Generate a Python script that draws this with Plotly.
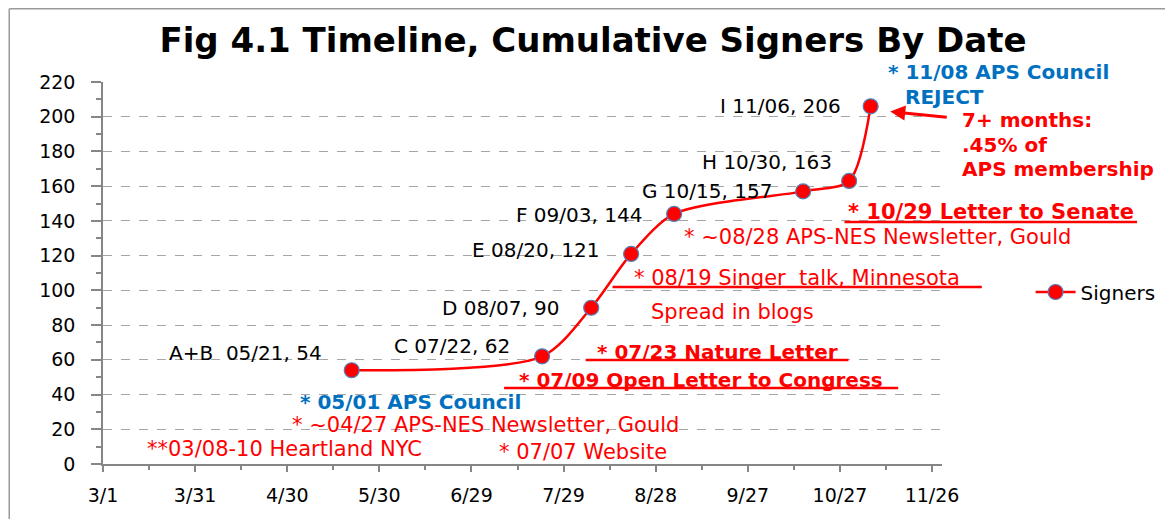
import plotly.graph_objects as go
import datetime as dt

# ---- data ----
point_labels = ["A+B ", "C", "D", "E", "F", "G", "H", "I"]
dates = ["2009-05-21", "2009-07-22", "2009-08-07", "2009-08-20",
         "2009-09-03", "2009-10-15", "2009-10-30", "2009-11-06"]
signers = [54, 62, 90, 121, 144, 157, 163, 206]

tick_dates = ["2009-03-01", "2009-03-31", "2009-04-30", "2009-05-30", "2009-06-29",
              "2009-07-29", "2009-08-28", "2009-09-27", "2009-10-27", "2009-11-26"]
tick_text = ["3/1", "3/31", "4/30", "5/30", "6/29", "7/29", "8/28", "9/27", "10/27", "11/26"]
minor_dates = ["2009-03-16", "2009-04-15", "2009-05-15", "2009-06-14", "2009-07-14",
               "2009-08-13", "2009-09-12", "2009-10-12", "2009-11-11"]

# ---- layout geometry (page pixels; page body has an 8px margin) ----
OFF = 8
W, H = 1165, 511
L, R, T, B = 103, 946, 82, 464   # plot area edges on the page


def px(x):
    return (x - L) / (R - L)


def py(y):
    return (B - y) / (B - T)


RED = "#ff0000"
BLUE = "#0070c0"
FONT = "DejaVu Sans"

fig = go.Figure()
fig.add_trace(go.Scatter(
    x=dates, y=signers, mode="lines+markers", name="Signers",
    line=dict(color=RED, width=2.5, shape="spline", smoothing=0.8),
    marker=dict(color=RED, size=15, line=dict(color="#4f81bd", width=1.2)),
))

annotations = []
# point labels built from data (centre offsets in px from each marker)
label_shifts = [(-106, 17), (-90, 10), (-90, 0), (-95, 4), (-95, -1), (-96, 0), (-82, 19), (-90, 0)]
for lab, d, v, (sx, sy) in zip(point_labels, dates, signers, label_shifts):
    dd = dt.date.fromisoformat(d)
    txt = f"{lab} {dd.month:02d}/{dd.day:02d}, {v}"
    annotations.append(dict(x=d, y=v, xref="x", yref="y", text=txt, showarrow=False,
                            xanchor="center", yanchor="middle", xshift=sx, yshift=sy,
                            font=dict(family=FONT, size=20, color="black")))


def note(x0, x1, y, text, color, size, bold=False, anchor="center"):
    t = f"<b>{text}</b>" if bold else text
    x = (x0 + x1) / 2 if anchor == "center" else x0
    annotations.append(dict(x=px(x), y=py(y), xref="paper", yref="paper", text=t,
                            showarrow=False, xanchor=anchor, yanchor="middle",
                            borderpad=0,
                            font=dict(family=FONT, size=size, color=color)))


note(882, 1123, 72, "* 11/08 APS Council", BLUE, 20, True)
note(907, 990, 97, "REJECT", BLUE, 20, True)
note(965, 1098, 120, "7+ months:", RED, 20, True, "left")
note(965, 1060, 145, ".45% of", RED, 20, True, "left")
note(965, 1165, 169, "APS membership", RED, 20, True, "left")
note(850, 1141, 212, "* 10/29 Letter to Senate", RED, 21, True)
note(666, 1097, 237, "* ~08/28 APS-NES Newsletter, Gould", RED, 21)
note(617, 984, 278, "* 08/19 Singer  talk, Minnesota", RED, 21)
note(645, 825, 312, "Spread in blogs", RED, 21)
note(590, 850, 352, "* 07/23 Nature Letter", RED, 20, True)
note(508, 900, 380, "* 07/09 Open Letter to Congress", RED, 20, True)
note(292, 532, 402, "* 05/01 APS Council", BLUE, 20, True)
note(272, 703, 425, "* ~04/27 APS-NES Newsletter, Gould", RED, 21)
note(127, 443, 449, "**03/08-10 Heartland NYC", RED, 21)
note(490, 680, 452, "* 07/07 Website", RED, 21)

# arrow pointing to the last point
annotations.append(dict(x=px(894), y=py(111.5), xref="paper", yref="paper", text="",
                        showarrow=True, ax=58, ay=6, axref="pixel", ayref="pixel",
                        arrowcolor=RED, arrowwidth=3, arrowhead=2, arrowsize=1))

shapes = []
# white text-box areas that interrupt gridlines (drawn between grid and traces)
for x0, x1, y in [(860, 946, 82), (860, 946, 117), (690, 946, 221), (674, 946, 256),
                  (626, 865, 325), (271, 564, 395), (249, 704, 429)]:
    shapes.append(dict(type="rect", xref="paper", yref="paper", layer="between",
                       x0=px(x0), x1=px(x1), y0=py(y + 4), y1=py(y - 4),
                       fillcolor="white", line=dict(width=0)))
# underlines
for x0, x1, y in [(848, 1142, 222), (615, 986, 287), (588, 852, 360), (506, 902, 388)]:
    shapes.append(dict(type="line", xref="paper", yref="paper", x0=px(x0), x1=px(x1),
                       y0=py(y), y1=py(y), line=dict(color=RED, width=2.5)))
# outer chart border (left and top visible)
shapes.append(dict(type="line", xref="paper", yref="paper", x0=px(8.8), x1=px(8.8),
                   y0=py(8.8), y1=py(530), line=dict(color="#9a9a9a", width=1.5)))
shapes.append(dict(type="line", xref="paper", yref="paper", x0=px(8.8), x1=px(1180),
                   y0=py(8.8), y1=py(8.8), line=dict(color="#9a9a9a", width=1.5)))

fig.update_layout(
    width=W, height=H,
    margin=dict(l=L - OFF, r=W - (R - OFF), t=T - OFF, b=H - (B - OFF), pad=0),
    paper_bgcolor="white", plot_bgcolor="white",
    font=dict(family=FONT, color="black"),
    title=dict(text="<b>Fig 4.1 Timeline, Cumulative Signers By Date</b>",
               x=(593 - OFF) / W, xanchor="center", y=1 - (40 - OFF) / H, yanchor="middle",
               font=dict(family=FONT, size=34, color="black")),
    showlegend=True,
    legend=dict(x=px(1035), y=py(292), xanchor="left", yanchor="middle",
                font=dict(family=FONT, size=20, color="black"),
                bgcolor="rgba(0,0,0,0)", itemwidth=40),
    annotations=annotations,
    shapes=shapes,
)

fig.update_xaxes(
    type="date", range=["2009-03-01", "2009-11-29 05:50"],
    tickmode="array", tickvals=tick_dates, ticktext=tick_text,
    ticks="outside", ticklen=6, tickcolor="#868686", tickwidth=1.5,
    minor=dict(tickmode="array", tickvals=minor_dates, ticks="outside", ticklen=4,
               tickcolor="#868686", showgrid=False),
    showline=True, linecolor="#868686", linewidth=1.5,
    showgrid=False, zeroline=False,
    tickfont=dict(family=FONT, size=19, color="black"),
    ticklabelstandoff=7,
)
fig.update_yaxes(
    range=[0, 220], tickmode="linear", tick0=0, dtick=20,
    ticks="outside", ticklen=10, tickcolor="#868686", tickwidth=1.5,
    minor=dict(dtick=10, ticks="outside", ticklen=5, tickcolor="#868686", showgrid=False),
    showline=True, linecolor="#868686", linewidth=1.5,
    showgrid=True, gridcolor="#a6a6a6", griddash="dash", gridwidth=1,
    zeroline=False,
    tickfont=dict(family=FONT, size=19, color="black"),
    ticklabelstandoff=12,
)

fig.write_html("out.html")
